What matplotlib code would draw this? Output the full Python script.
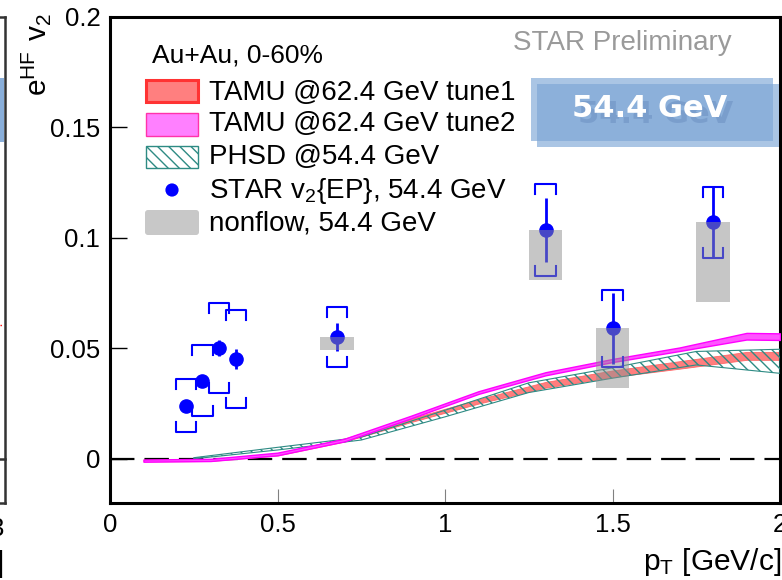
import matplotlib
matplotlib.use("Agg")
import matplotlib.pyplot as plt
import matplotlib.patches as mpatches
import matplotlib.transforms as mtransforms
from matplotlib.lines import Line2D

plt.rcParams["font.family"] = ["Liberation Sans", "DejaVu Sans"]
plt.rcParams["hatch.linewidth"] = 1.0

W, H = 782, 580

# STAR v2{EP} 54.4 GeV
star_pt = [0.227, 0.276, 0.326, 0.376, 0.678, 1.30, 1.50, 1.80]
star_v2 = [0.024, 0.0354, 0.0501, 0.0452, 0.0552, 0.1036, 0.059, 0.1071]
star_stat = [0.002, 0.002, 0.0035, 0.0045, 0.0065, 0.0143, 0.016, 0.016]
star_sys = [0.012, 0.016, 0.0205, 0.022, 0.0135, 0.021, 0.0175, 0.016]

# nonflow (drawn below the points)
nonflow_pt = [0.678, 1.30, 1.50, 1.80]
nonflow_v2 = [0.0552, 0.1036, 0.059, 0.1071]
nonflow_size = [0.006, 0.0226, 0.027, 0.036]

# TAMU @62.4 GeV
tamu_pt = [0.1, 0.3, 0.5, 0.7, 0.9, 1.1, 1.3, 1.5, 1.7, 1.9, 2.0]
tune1_lo = [-0.0012, -0.001, 0.0015, 0.0078, 0.0167, 0.0250, 0.0322, 0.0370, 0.0408, 0.0448, 0.0448]
tune1_hi = [-0.0004, -0.0002, 0.0025, 0.0092, 0.0183, 0.0270, 0.0348, 0.0400, 0.0442, 0.0484, 0.0484]
tune2_lo = [-0.0013, -0.001, 0.0016, 0.0079, 0.0184, 0.0294, 0.0378, 0.0438, 0.0488, 0.0540, 0.0538]
tune2_hi = [-0.0003, 0.0, 0.0028, 0.0091, 0.0196, 0.0306, 0.0392, 0.0452, 0.0504, 0.0570, 0.0568]

# PHSD @54.4 GeV
phsd_pt = [0.25, 0.5, 0.75, 1.0, 1.25, 1.5, 1.75, 2.0]
phsd_lo = [0.0, 0.004, 0.0085, 0.019, 0.030, 0.0365, 0.0425, 0.0387]
phsd_hi = [0.0005, 0.0052, 0.0098, 0.022, 0.0344, 0.0412, 0.0486, 0.0496]

x_ticks = [0, 0.5, 1, 1.5, 2]
x_labels = ["0", "0.5", "1", "1.5", "2"]
y_ticks = [0, 0.05, 0.1, 0.15, 0.2]
y_labels = ["0", "0.05", "0.1", "0.15", "0.2"]

fig = plt.figure(figsize=(W / 100, H / 100), dpi=100)
# pixel coordinates of the reference, origin top-left
T = mtransforms.Affine2D().scale(1 / 100, -1 / 100).translate(0, H / 100) + fig.dpi_scale_trans

ax = fig.add_axes([110 / W, 1 - 503 / H, 670 / W, 486 / H])
ax.set_xlim(0, 2)
ax.set_ylim(-0.02, 0.2)

for s in ax.spines.values():
    s.set_linewidth(2.2)

ax.set_xticks(x_ticks, x_labels)
ax.set_yticks(y_ticks, y_labels)
ax.tick_params(axis="y", direction="in", length=12, width=1, labelsize=18.5, pad=7)
ax.tick_params(axis="x", direction="in", length=10, width=0.8, color="#808080",
               labelsize=18.5, pad=7)
ax.minorticks_off()

# zero line
ax.axhline(0, color="black", lw=1.6, dashes=(11, 4.5), zorder=1)

# models
ax.fill_between(phsd_pt, phsd_lo, phsd_hi, facecolor="none", edgecolor="#2e8b84",
                hatch="\\\\\\", lw=0.8, zorder=3)
ax.fill_between(tamu_pt, tune1_lo, tune1_hi, facecolor="#ff7070", edgecolor="#ff6060",
                lw=0.6, alpha=0.9, zorder=2)
ax.fill_between(tamu_pt, tune2_lo, tune2_hi, facecolor="#ff55ff", edgecolor="#ff00ff",
                lw=1.0, zorder=4)

# data
ax.errorbar(star_pt, star_v2, yerr=star_stat, fmt="o", ms=9.5, color="blue",
            elinewidth=2, capsize=0, zorder=5)
bw, leg = 0.03, 0.0045
for x, y, s in zip(star_pt, star_v2, star_sys):
    ax.plot([x - bw, x - bw, x + bw, x + bw], [y + s - leg, y + s, y + s, y + s - leg],
            color="blue", lw=1.5, zorder=5)
    ax.plot([x - bw, x - bw, x + bw, x + bw], [y - s + leg, y - s, y - s, y - s + leg],
            color="blue", lw=1.5, zorder=5)

ax.bar(nonflow_pt, nonflow_size, bottom=[v - n for v, n in zip(nonflow_v2, nonflow_size)],
       width=0.1, color=(0.56, 0.56, 0.56), alpha=0.5, lw=0, zorder=6)

# axis titles
fig.text(53, 13, r"$\mathregular{e^{HF}\ v_{2}}$", transform=T, rotation=90,
         ha="right", va="top", fontsize=21.5)
fig.text(781, 578, r"$\mathregular{p_{T}}$ [GeV/c]", transform=T, ha="right",
         va="bottom", fontsize=21.5)

# legend
fig.text(152, 63, "Au+Au, 0-60%", transform=T, fontsize=19)
fig.patches.append(mpatches.Rectangle((146, 80), 52, 22, transform=T, facecolor="#ff7f7f",
                                      edgecolor="#ff3333", lw=2.2))
fig.patches.append(mpatches.Rectangle((146, 113), 52, 23, transform=T, facecolor="#ff80ff",
                                      edgecolor="#ff33aa", lw=1))
fig.patches.append(mpatches.Rectangle((146, 146), 52, 22, transform=T, facecolor="white",
                                      edgecolor="#2e8b84", hatch="\\\\\\", lw=1))
fig.patches.append(mpatches.Circle((172, 190), 6.6, transform=T, facecolor="blue",
                                   edgecolor="none"))
fig.patches.append(mpatches.FancyBboxPatch((145, 210), 54, 25, transform=T,
                                           boxstyle="round,pad=0,rounding_size=3",
                                           facecolor="#c8c8c8", edgecolor="none"))
legend_text = ["TAMU @62.4 GeV tune1", "TAMU @62.4 GeV tune2", "PHSD @54.4 GeV",
               r"STAR v$_{\mathregular{2}}${EP}, 54.4 GeV", "nonflow, 54.4 GeV"]
for txt, yb in zip(legend_text, [100, 131, 164, 198, 230]):
    fig.text(209, yb, txt, transform=T, fontsize=20, va="baseline")

fig.text(513, 50, "STAR Preliminary", transform=T, fontsize=20, color="#9a9a9a",
         va="baseline")

# energy box
box_col = (0.49, 0.65, 0.84)
fig.patches.append(mpatches.Rectangle((531, 78), 242, 63, transform=T, facecolor=box_col,
                                      alpha=0.65, edgecolor="none"))
fig.patches.append(mpatches.Rectangle((537, 84), 242, 63, transform=T, facecolor=box_col,
                                      alpha=0.65, edgecolor="none"))
fig.text(578, 123, "54.4 GeV", transform=T, fontsize=22, fontweight="bold",
         family="DejaVu Sans", color="#6f93c4", alpha=0.6, va="baseline")
fig.text(572, 117, "54.4 GeV", transform=T, fontsize=22, fontweight="bold",
         family="DejaVu Sans", color="white", va="baseline")

# edge of the neighbouring panel
for xs, ys in [([5, 5], [17, 503]), ([0, 5], [503, 503]), ([0, 5], [459, 459]),
               ([0, 5], [17, 17])]:
    fig.add_artist(Line2D(xs, ys, transform=T, color="#333333", lw=1.8))
fig.patches.append(mpatches.Rectangle((0, 78), 4, 64, transform=T, facecolor=box_col,
                                      alpha=0.9, edgecolor="none"))
fig.add_artist(Line2D([0, 3], [325, 325], transform=T, color="red", lw=1, ls=":"))
fig.text(-10, 536, "3", transform=T, fontsize=18.5, va="baseline")
fig.text(-4, 572, "]", transform=T, fontsize=21.5, va="baseline")

fig.savefig("out.png", dpi=100)
